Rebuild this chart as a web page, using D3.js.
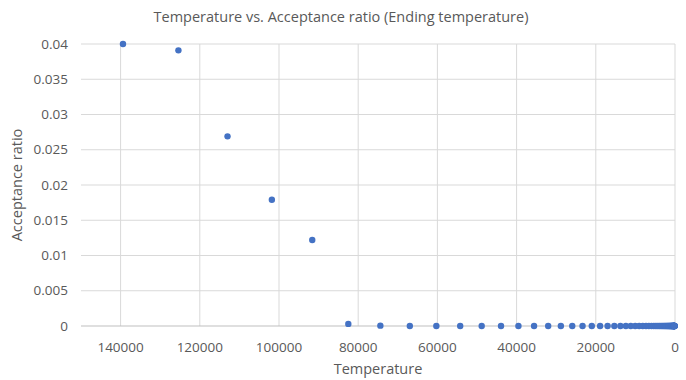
<!DOCTYPE html>
<html>
<head>
<meta charset="utf-8">
<script src="https://cdn.jsdelivr.net/npm/d3@7"></script>
<style>
  body { margin: 0; background: #fff; }
  svg text { font-family: "Open Sans", "Liberation Sans", sans-serif; fill: #595959; }
</style>
</head>
<body>
<script>
// values
const temperature = [139400, 125400, 113000, 101800, 91600, 82500, 74402, 66962, 60265, 54239,
    48815, 43933, 39540, 35586, 32027, 28825, 25942, 23348, 21013, 18912,
    17021, 15319, 13787, 12408, 11167, 10051, 9046, 8141, 7327, 6594,
    5935, 5341, 4807, 4327, 3894, 3505, 3154, 2839, 2555, 2299,
    2069, 1862, 1676, 1509, 1358, 1222, 1100, 990, 891, 802,
    722, 649, 584, 526, 473, 426, 383, 345, 311, 280,
    252, 226, 204, 183, 165, 149, 134, 120, 108, 97];
const acceptance = [0.04, 0.0391, 0.0269, 0.0179, 0.0122, 0.0003, 0.00005];
const xTicks = [140000, 120000, 100000, 80000, 60000, 40000, 20000, 0];
const yTicks = [0, 0.005, 0.01, 0.015, 0.02, 0.025, 0.03, 0.035, 0.04];

const points = temperature.map((t, i) => ({ t: t, a: acceptance[i] || 0 }));

const width = 686, height = 380;
const margin = { top: 44, right: 11, bottom: 54, left: 81 };

const svg = d3.select('body')
    .append('svg')
    .attr('width', width)
    .attr('height', height);

const x = d3.scaleLinear()
    .domain([150000, 0])
    .range([margin.left, width - margin.right]);

const y = d3.scaleLinear()
    .domain([0, 0.04])
    .range([height - margin.bottom, margin.top]);

// title
svg.append('text')
    .attr('x', 341)
    .attr('y', 22)
    .attr('text-anchor', 'middle')
    .style('font-size', '14.5px')
    .text('Temperature vs. Acceptance ratio (Ending temperature)');

// gridlines
svg.append('g')
    .selectAll('line')
    .data(yTicks.filter(d => d > 0))
    .enter()
    .append('line')
        .attr('x1', x(150000))
        .attr('x2', x(0))
        .attr('y1', d => y(d))
        .attr('y2', d => y(d))
        .style('stroke', '#d9d9d9');

svg.append('g')
    .selectAll('line')
    .data(xTicks)
    .enter()
    .append('line')
        .attr('x1', d => x(d))
        .attr('x2', d => x(d))
        .attr('y1', y(0.04))
        .attr('y2', y(0))
        .style('stroke', '#d9d9d9');

// axis line
svg.append('line')
    .attr('x1', x(150000))
    .attr('x2', x(0))
    .attr('y1', y(0))
    .attr('y2', y(0))
    .style('stroke', '#bfbfbf');

// tick labels
svg.append('g')
    .selectAll('text')
    .data(yTicks)
    .enter()
    .append('text')
        .attr('x', 68)
        .attr('y', d => y(d))
        .attr('dy', '0.35em')
        .attr('text-anchor', 'end')
        .style('font-size', '13.5px')
        .text(d => d3.format('~g')(d));

svg.append('g')
    .selectAll('text')
    .data(xTicks)
    .enter()
    .append('text')
        .attr('x', d => x(d))
        .attr('y', 347)
        .attr('dy', '0.35em')
        .attr('text-anchor', 'middle')
        .style('font-size', '13.5px')
        .text(d => d);

// axis titles
svg.append('text')
    .attr('x', 378)
    .attr('y', 369)
    .attr('dy', '0.35em')
    .attr('text-anchor', 'middle')
    .style('font-size', '14.5px')
    .text('Temperature');

svg.append('text')
    .attr('transform', 'translate(17,' + y(0.02) + ') rotate(-90)')
    .attr('dy', '0.35em')
    .attr('text-anchor', 'middle')
    .style('font-size', '14.5px')
    .text('Acceptance ratio');

// points
svg.append('g')
    .selectAll('circle')
    .data(points)
    .enter()
    .append('circle')
        .attr('cx', d => x(d.t))
        .attr('cy', d => y(d.a))
        .attr('r', 3.2)
        .style('fill', '#4472c4');
</script>
</body>
</html>
